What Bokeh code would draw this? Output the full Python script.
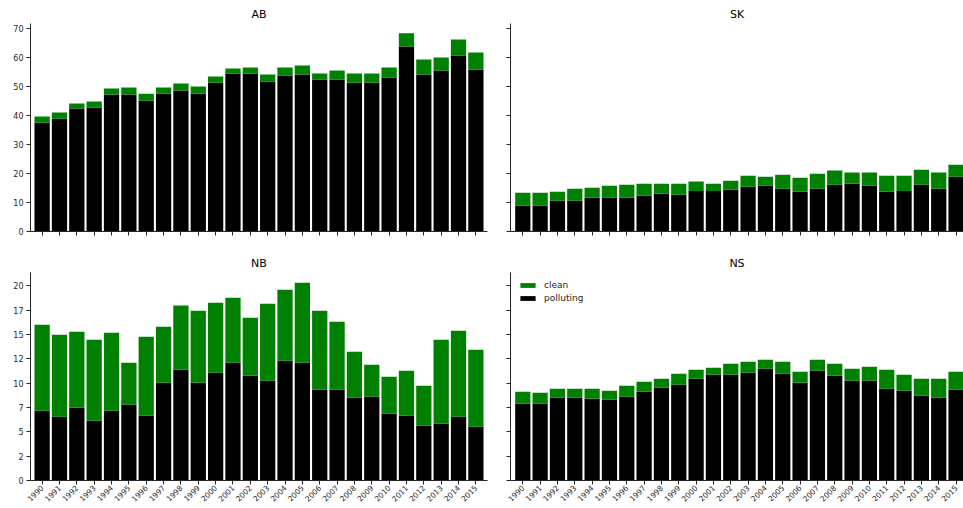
from bokeh.plotting import figure
from bokeh.models import (Range1d, FixedTicker, Legend, LegendItem, ColumnDataSource,
                          CustomJSTickFormatter)
from bokeh.layouts import column, row
from bokeh.embed import file_html
from bokeh.resources import INLINE
import math

years = list(range(1990, 2016))

ab_polluting = [37.5, 38.9, 42.4, 42.7, 47.2, 47.2, 45.1, 47.5, 48.6, 47.5, 51.3, 54.5, 54.5,
                51.7, 53.8, 54.1, 52.4, 52.4, 51.3, 51.3, 53.1, 63.8, 54.1, 55.5, 60.7, 55.8]
ab_total = [39.6, 41.0, 44.1, 44.8, 49.3, 49.6, 47.5, 49.6, 51.0, 50.0, 53.4, 56.2, 56.5,
            54.1, 56.5, 57.2, 54.5, 55.5, 54.5, 54.5, 56.5, 68.3, 59.3, 60.0, 66.2, 61.7]

sk_polluting = [8.9, 8.9, 10.6, 10.6, 11.6, 11.6, 11.6, 12.3, 13.0, 12.7, 14.0, 14.0, 14.4,
                15.4, 15.8, 14.7, 13.7, 14.7, 16.1, 16.5, 15.8, 13.7, 14.0, 16.1, 14.7, 18.9]
sk_total = [13.4, 13.4, 13.7, 14.7, 15.1, 15.8, 16.1, 16.5, 16.5, 16.5, 17.2, 16.5, 17.5,
            19.2, 18.9, 19.6, 18.5, 19.9, 21.0, 20.3, 20.3, 19.2, 19.2, 21.3, 20.3, 23.0]

nb_polluting = [7.16, 6.54, 7.47, 6.13, 7.16, 7.77, 6.64, 10.03, 11.37, 10.03, 11.06, 12.09, 10.75,
                10.24, 12.29, 12.09, 9.32, 9.32, 8.49, 8.60, 6.85, 6.64, 5.62, 5.82, 6.54, 5.51]
nb_total = [15.99, 14.97, 15.27, 14.45, 15.17, 12.09, 14.76, 15.79, 17.95, 17.43, 18.25, 18.77, 16.71,
            18.15, 19.59, 20.31, 17.43, 16.30, 13.22, 11.88, 10.65, 11.27, 9.73, 14.45, 15.38, 13.42]

ns_polluting = [7.88, 7.88, 8.49, 8.49, 8.39, 8.29, 8.60, 9.11, 9.52, 9.83, 10.45, 10.86, 10.86,
                11.06, 11.47, 10.96, 10.03, 11.27, 10.75, 10.24, 10.24, 9.42, 9.21, 8.70, 8.49, 9.32]
ns_total = [9.11, 9.01, 9.42, 9.42, 9.42, 9.21, 9.73, 10.14, 10.45, 10.96, 11.37, 11.58, 11.99,
            12.19, 12.40, 12.19, 11.16, 12.40, 11.99, 11.47, 11.68, 11.37, 10.86, 10.45, 10.45, 11.16]

top_ticks = [0, 10, 20, 30, 40, 50, 60, 70]
bottom_ticks = [0, 2.5, 5, 7.5, 10, 12.5, 15, 17.5, 20]
bottom_tick_labels = ["0", "2", "5", "7", "10", "12", "15", "17", "20"]

FONT = "DejaVu Sans"
TXT = "#262626"


def panel(title, polluting, total, width, height, x_range, y_range, yticks,
          show_ylabels, show_xlabels, borders, ylabel_overrides=None):
    bl, br, bt, bb = borders
    p = figure(width=width, height=height, x_range=x_range, y_range=y_range,
               output_backend="svg", toolbar_location=None,
               min_border_left=bl, min_border_right=br, min_border_top=bt, min_border_bottom=bb)
    clean = [round(t - q, 3) for t, q in zip(total, polluting)]
    src = ColumnDataSource(dict(year=years, polluting=polluting, clean=clean))
    rs = p.vbar_stack(["polluting", "clean"], x="year", width=0.88, source=src,
                      fill_color=["black", "#008000"], line_color=None)
    p.title.text = title
    p.title.align = "center"
    p.title.text_font = FONT
    p.title.text_font_style = "normal"
    p.title.text_font_size = "11px"
    p.title.text_color = "black"
    p.title.standoff = 5
    p.xgrid.visible = False
    p.ygrid.visible = False
    p.outline_line_color = None
    for ax in (p.xaxis[0], p.yaxis[0]):
        ax.axis_line_color = TXT
        ax.major_tick_line_color = TXT
        ax.minor_tick_line_color = None
        ax.major_tick_in = 0
        ax.major_tick_out = 4
        ax.major_label_text_font = FONT
        ax.major_label_text_color = TXT
    p.xaxis.ticker = FixedTicker(ticks=years)
    p.yaxis.ticker = FixedTicker(ticks=yticks)
    if ylabel_overrides:
        p.yaxis.major_label_overrides = ylabel_overrides
    if show_ylabels:
        p.yaxis.major_label_text_font_size = "8px"
        p.yaxis.major_label_standoff = 3
    else:
        p.yaxis.formatter = CustomJSTickFormatter(code="return ''")
        p.yaxis.major_label_standoff = 0
    if show_xlabels:
        p.xaxis.major_label_text_font_size = "7.5px"
        p.xaxis.major_label_orientation = math.pi / 4
        p.xaxis.major_label_standoff = 2
    else:
        p.xaxis.formatter = CustomJSTickFormatter(code="return ''")
        p.xaxis.major_label_standoff = 0
    return p, rs


xl = Range1d(1989.33, 2015.67)
xr = Range1d(1989.29, 2015.43)
yt = Range1d(0, 71.7)
yb = Range1d(0, 21.35)
nb_over = {t: l for t, l in zip(bottom_ticks, bottom_tick_labels)}

p_ab, _ = panel("AB", ab_polluting, ab_total, 490, 240, xl, yt, top_ticks, True, False, (30, 3, 23, 9))
p_sk, _ = panel("SK", sk_polluting, sk_total, 473, 240, xr, yt, top_ticks, False, False, (20, 0, 23, 9))
p_nb, _ = panel("NB", nb_polluting, nb_total, 490, 268, xl, yb, bottom_ticks, True, True, (30, 3, 32, 28), nb_over)
p_ns, rs_ns = panel("NS", ns_polluting, ns_total, 473, 268, xr, yb, bottom_ticks, False, True, (20, 0, 32, 28))

legend = Legend(items=[LegendItem(label="clean", renderers=[rs_ns[1]]),
                       LegendItem(label="polluting", renderers=[rs_ns[0]])],
                location="top_left", border_line_color=None, background_fill_alpha=0,
                label_text_font=FONT, label_text_font_size="9px", label_text_color=TXT,
                glyph_width=19, glyph_height=6, label_standoff=7, label_height=10,
                padding=0, margin=8, spacing=3)
p_ns.add_layout(legend)

layout = column(row(p_ab, p_sk), row(p_nb, p_ns))
open("out.html", "w").write(file_html(layout, INLINE))
